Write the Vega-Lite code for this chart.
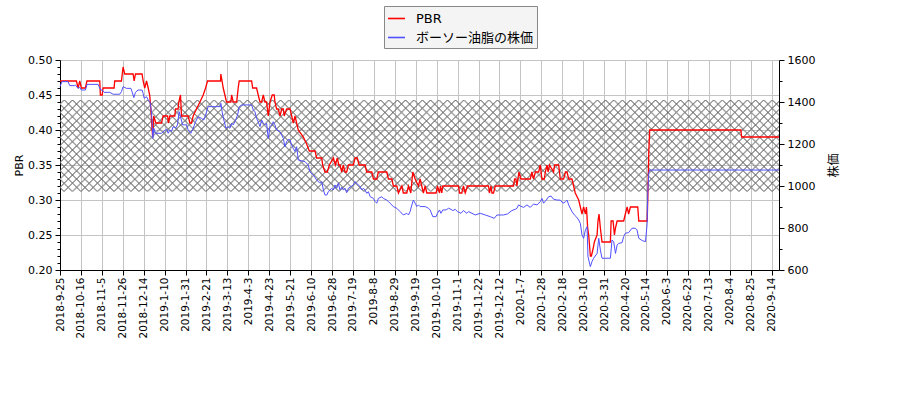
{
  "$schema": "https://vega.github.io/schema/vega-lite/v6.json",
  "width": 719,
  "height": 210,
  "autosize": {"type": "none"},
  "padding": {"left": 60, "top": 60, "right": 121, "bottom": 130},
  "background": "white",
  "config": {
    "view": {"stroke": null},
    "font": "DejaVu Sans",
    "axis": {
      "labelFont": "DejaVu Sans",
      "labelFontSize": 11,
      "labelColor": "black",
      "titleFont": "DejaVu Sans, Noto Sans CJK JP",
      "titleFontSize": 11,
      "titleFontWeight": "normal",
      "titleColor": "black",
      "domainColor": "black",
      "domainWidth": 1,
      "tickColor": "black",
      "tickWidth": 1,
      "gridColor": "#c4c4c4",
      "gridWidth": 1,
      "labelOverlap": false,
      "labelFlush": false
    }
  },
  "datasets": {
    "band": [{"lo": 0.312, "hi": 0.443}],
    "pbr": [
      {"day": 0, "pbr": 0.47}, {"day": 11, "pbr": 0.47}, {"day": 12.1, "pbr": 0.46}, {"day": 13.2, "pbr": 0.47}, {"day": 14.3, "pbr": 0.46}, {"day": 17, "pbr": 0.46}, {"day": 18, "pbr": 0.47}, {"day": 26.6, "pbr": 0.47}, {"day": 27, "pbr": 0.45}, {"day": 28.2, "pbr": 0.45}, {"day": 28.8, "pbr": 0.46}, {"day": 36.2, "pbr": 0.46}, {"day": 36.6, "pbr": 0.47}, {"day": 41.1, "pbr": 0.47}, {"day": 42.2, "pbr": 0.49}, {"day": 43.3, "pbr": 0.48}, {"day": 48.9, "pbr": 0.48}, {"day": 49.6, "pbr": 0.47}, {"day": 50.5, "pbr": 0.48}, {"day": 54.9, "pbr": 0.48}, {"day": 55.6, "pbr": 0.47}, {"day": 56.7, "pbr": 0.46}, {"day": 57.9, "pbr": 0.47}, {"day": 59, "pbr": 0.46}, {"day": 60, "pbr": 0.45}, {"day": 60.8, "pbr": 0.43}, {"day": 61.6, "pbr": 0.4}, {"day": 62, "pbr": 0.39}, {"day": 62.7, "pbr": 0.42}, {"day": 64.1, "pbr": 0.41}, {"day": 67.9, "pbr": 0.41}, {"day": 69, "pbr": 0.42}, {"day": 72, "pbr": 0.42}, {"day": 72.5, "pbr": 0.41}, {"day": 73.5, "pbr": 0.42}, {"day": 76.8, "pbr": 0.42}, {"day": 77.3, "pbr": 0.43}, {"day": 79, "pbr": 0.43}, {"day": 79.5, "pbr": 0.44}, {"day": 80.6, "pbr": 0.45}, {"day": 81.3, "pbr": 0.42}, {"day": 85.7, "pbr": 0.42}, {"day": 86.9, "pbr": 0.41}, {"day": 88, "pbr": 0.41}, {"day": 89.1, "pbr": 0.42}, {"day": 91.3, "pbr": 0.43}, {"day": 93.6, "pbr": 0.44}, {"day": 95.8, "pbr": 0.45}, {"day": 97.4, "pbr": 0.46}, {"day": 98.7, "pbr": 0.47}, {"day": 107.4, "pbr": 0.47}, {"day": 107.6, "pbr": 0.48}, {"day": 109.2, "pbr": 0.46}, {"day": 110.3, "pbr": 0.45}, {"day": 111.4, "pbr": 0.44}, {"day": 114.3, "pbr": 0.44}, {"day": 114.8, "pbr": 0.45}, {"day": 115.9, "pbr": 0.44}, {"day": 118.2, "pbr": 0.44}, {"day": 119.2, "pbr": 0.46}, {"day": 119.9, "pbr": 0.47}, {"day": 128.2, "pbr": 0.47}, {"day": 128.9, "pbr": 0.46}, {"day": 131.5, "pbr": 0.46}, {"day": 132.6, "pbr": 0.45}, {"day": 133.8, "pbr": 0.44}, {"day": 134.9, "pbr": 0.44}, {"day": 136, "pbr": 0.45}, {"day": 137.1, "pbr": 0.44}, {"day": 138.2, "pbr": 0.44}, {"day": 139.3, "pbr": 0.42}, {"day": 140.5, "pbr": 0.44}, {"day": 142, "pbr": 0.45}, {"day": 143.3, "pbr": 0.45}, {"day": 143.8, "pbr": 0.44}, {"day": 144.9, "pbr": 0.43}, {"day": 146, "pbr": 0.43}, {"day": 147.2, "pbr": 0.42}, {"day": 148.3, "pbr": 0.43}, {"day": 149.4, "pbr": 0.43}, {"day": 150, "pbr": 0.42}, {"day": 151.6, "pbr": 0.43}, {"day": 153.9, "pbr": 0.43}, {"day": 155, "pbr": 0.42}, {"day": 156.1, "pbr": 0.41}, {"day": 157.2, "pbr": 0.42}, {"day": 159.4, "pbr": 0.4}, {"day": 162.8, "pbr": 0.39}, {"day": 165, "pbr": 0.38}, {"day": 166.8, "pbr": 0.37}, {"day": 170.6, "pbr": 0.37}, {"day": 171.7, "pbr": 0.36}, {"day": 175.1, "pbr": 0.36}, {"day": 175.7, "pbr": 0.35}, {"day": 177.3, "pbr": 0.34}, {"day": 178.8, "pbr": 0.34}, {"day": 180.2, "pbr": 0.35}, {"day": 182.9, "pbr": 0.36}, {"day": 184.2, "pbr": 0.35}, {"day": 185.5, "pbr": 0.36}, {"day": 186.5, "pbr": 0.35}, {"day": 187.3, "pbr": 0.35}, {"day": 188.5, "pbr": 0.34}, {"day": 189.5, "pbr": 0.35}, {"day": 190.7, "pbr": 0.34}, {"day": 191.8, "pbr": 0.34}, {"day": 192.9, "pbr": 0.35}, {"day": 196.2, "pbr": 0.35}, {"day": 197.4, "pbr": 0.36}, {"day": 198.9, "pbr": 0.36}, {"day": 200.1, "pbr": 0.35}, {"day": 204.1, "pbr": 0.35}, {"day": 205.2, "pbr": 0.34}, {"day": 208.6, "pbr": 0.34}, {"day": 209.7, "pbr": 0.33}, {"day": 211.9, "pbr": 0.33}, {"day": 213, "pbr": 0.34}, {"day": 218.6, "pbr": 0.34}, {"day": 219.7, "pbr": 0.33}, {"day": 222, "pbr": 0.33}, {"day": 223, "pbr": 0.32}, {"day": 225.3, "pbr": 0.32}, {"day": 226.4, "pbr": 0.31}, {"day": 228.7, "pbr": 0.32}, {"day": 229.7, "pbr": 0.31}, {"day": 232, "pbr": 0.31}, {"day": 233.1, "pbr": 0.32}, {"day": 234.7, "pbr": 0.31}, {"day": 236, "pbr": 0.34}, {"day": 237.6, "pbr": 0.33}, {"day": 239.8, "pbr": 0.32}, {"day": 240.9, "pbr": 0.33}, {"day": 242, "pbr": 0.32}, {"day": 243.1, "pbr": 0.31}, {"day": 244.3, "pbr": 0.32}, {"day": 245.4, "pbr": 0.31}, {"day": 251.6, "pbr": 0.31}, {"day": 252.5, "pbr": 0.32}, {"day": 253.9, "pbr": 0.31}, {"day": 254.5, "pbr": 0.32}, {"day": 255.4, "pbr": 0.31}, {"day": 256.1, "pbr": 0.32}, {"day": 266.6, "pbr": 0.32}, {"day": 267.3, "pbr": 0.31}, {"day": 268.8, "pbr": 0.31}, {"day": 269.9, "pbr": 0.32}, {"day": 271.1, "pbr": 0.31}, {"day": 272.6, "pbr": 0.32}, {"day": 286.7, "pbr": 0.32}, {"day": 287.3, "pbr": 0.31}, {"day": 288.3, "pbr": 0.32}, {"day": 289, "pbr": 0.31}, {"day": 290, "pbr": 0.31}, {"day": 291.2, "pbr": 0.32}, {"day": 303.4, "pbr": 0.32}, {"day": 304.1, "pbr": 0.33}, {"day": 305, "pbr": 0.33}, {"day": 305.7, "pbr": 0.32}, {"day": 307, "pbr": 0.34}, {"day": 308.4, "pbr": 0.33}, {"day": 314.6, "pbr": 0.33}, {"day": 315.7, "pbr": 0.34}, {"day": 316.8, "pbr": 0.33}, {"day": 318, "pbr": 0.34}, {"day": 320.2, "pbr": 0.34}, {"day": 321.3, "pbr": 0.35}, {"day": 322.4, "pbr": 0.33}, {"day": 324, "pbr": 0.33}, {"day": 324.7, "pbr": 0.34}, {"day": 325.8, "pbr": 0.35}, {"day": 326.5, "pbr": 0.34}, {"day": 327.5, "pbr": 0.35}, {"day": 330.2, "pbr": 0.34}, {"day": 330.9, "pbr": 0.35}, {"day": 333.6, "pbr": 0.35}, {"day": 334.7, "pbr": 0.33}, {"day": 336.9, "pbr": 0.33}, {"day": 338.1, "pbr": 0.34}, {"day": 339.2, "pbr": 0.34}, {"day": 340.3, "pbr": 0.33}, {"day": 342.5, "pbr": 0.33}, {"day": 343.6, "pbr": 0.32}, {"day": 344.7, "pbr": 0.31}, {"day": 347, "pbr": 0.3}, {"day": 348.1, "pbr": 0.29}, {"day": 349.2, "pbr": 0.28}, {"day": 350.3, "pbr": 0.29}, {"day": 351.5, "pbr": 0.28}, {"day": 352.2, "pbr": 0.29}, {"day": 353, "pbr": 0.26}, {"day": 353.7, "pbr": 0.25}, {"day": 354.8, "pbr": 0.22}, {"day": 355.5, "pbr": 0.22}, {"day": 356.6, "pbr": 0.23}, {"day": 357.5, "pbr": 0.24}, {"day": 359.3, "pbr": 0.25}, {"day": 359.9, "pbr": 0.27}, {"day": 360.6, "pbr": 0.28}, {"day": 361.5, "pbr": 0.26}, {"day": 362.6, "pbr": 0.24}, {"day": 368.2, "pbr": 0.24}, {"day": 368.7, "pbr": 0.27}, {"day": 370, "pbr": 0.27}, {"day": 370.9, "pbr": 0.25}, {"day": 371.6, "pbr": 0.26}, {"day": 372.7, "pbr": 0.27}, {"day": 377.1, "pbr": 0.27}, {"day": 378.2, "pbr": 0.28}, {"day": 379.4, "pbr": 0.29}, {"day": 380.4, "pbr": 0.28}, {"day": 381.6, "pbr": 0.29}, {"day": 386.5, "pbr": 0.29}, {"day": 387.2, "pbr": 0.27}, {"day": 392.8, "pbr": 0.27}, {"day": 393.2, "pbr": 0.3}, {"day": 393.9, "pbr": 0.37}, {"day": 394.5, "pbr": 0.4}, {"day": 455.5, "pbr": 0.4}, {"day": 456, "pbr": 0.39}, {"day": 481, "pbr": 0.39}
    ],
    "price": [
      {"day": 0, "price": 1473}, {"day": 1.3, "price": 1497}, {"day": 5.4, "price": 1497}, {"day": 6.5, "price": 1478}, {"day": 9.8, "price": 1478}, {"day": 10.3, "price": 1481}, {"day": 12.1, "price": 1465}, {"day": 13.2, "price": 1470}, {"day": 14.3, "price": 1457}, {"day": 17, "price": 1457}, {"day": 18.1, "price": 1484}, {"day": 25.5, "price": 1484}, {"day": 26.1, "price": 1473}, {"day": 27.3, "price": 1457}, {"day": 28.1, "price": 1457}, {"day": 29.5, "price": 1446}, {"day": 33.3, "price": 1446}, {"day": 35.5, "price": 1437}, {"day": 40, "price": 1437}, {"day": 41.1, "price": 1449}, {"day": 42.2, "price": 1473}, {"day": 44.5, "price": 1465}, {"day": 47.4, "price": 1465}, {"day": 48.2, "price": 1449}, {"day": 49.4, "price": 1421}, {"day": 50.5, "price": 1446}, {"day": 52.2, "price": 1457}, {"day": 54.9, "price": 1457}, {"day": 55.6, "price": 1441}, {"day": 56.3, "price": 1418}, {"day": 57.9, "price": 1425}, {"day": 59, "price": 1410}, {"day": 60.1, "price": 1402}, {"day": 61.2, "price": 1354}, {"day": 61.6, "price": 1306}, {"day": 62.1, "price": 1227}, {"day": 62.8, "price": 1275}, {"day": 63.9, "price": 1251}, {"day": 67.9, "price": 1251}, {"day": 71.3, "price": 1271}, {"day": 72.4, "price": 1251}, {"day": 73.5, "price": 1267}, {"day": 74.6, "price": 1259}, {"day": 75.7, "price": 1283}, {"day": 77.3, "price": 1275}, {"day": 78.6, "price": 1291}, {"day": 79.7, "price": 1354}, {"day": 80.6, "price": 1330}, {"day": 82, "price": 1291}, {"day": 84.7, "price": 1291}, {"day": 85.7, "price": 1267}, {"day": 87.5, "price": 1251}, {"day": 89.1, "price": 1275}, {"day": 90.7, "price": 1306}, {"day": 92.4, "price": 1330}, {"day": 94.7, "price": 1322}, {"day": 96.2, "price": 1314}, {"day": 97.4, "price": 1338}, {"day": 99.1, "price": 1378}, {"day": 107.4, "price": 1378}, {"day": 107.6, "price": 1394}, {"day": 108.8, "price": 1338}, {"day": 109.9, "price": 1306}, {"day": 111, "price": 1275}, {"day": 112.5, "price": 1283}, {"day": 113.7, "price": 1275}, {"day": 114.8, "price": 1299}, {"day": 115.9, "price": 1291}, {"day": 117, "price": 1306}, {"day": 118.8, "price": 1338}, {"day": 119.9, "price": 1378}, {"day": 121.5, "price": 1386}, {"day": 128.2, "price": 1386}, {"day": 129.3, "price": 1362}, {"day": 130.4, "price": 1354}, {"day": 131.5, "price": 1322}, {"day": 132.6, "price": 1306}, {"day": 133.8, "price": 1283}, {"day": 134.9, "price": 1314}, {"day": 136, "price": 1299}, {"day": 137.1, "price": 1291}, {"day": 138.2, "price": 1299}, {"day": 139.3, "price": 1227}, {"day": 140.5, "price": 1283}, {"day": 141.6, "price": 1291}, {"day": 142.7, "price": 1306}, {"day": 143.8, "price": 1291}, {"day": 144.9, "price": 1267}, {"day": 147.2, "price": 1259}, {"day": 148.3, "price": 1243}, {"day": 149.4, "price": 1227}, {"day": 150.5, "price": 1187}, {"day": 151.6, "price": 1211}, {"day": 152.7, "price": 1222}, {"day": 153.9, "price": 1219}, {"day": 155, "price": 1195}, {"day": 156.1, "price": 1179}, {"day": 157.2, "price": 1164}, {"day": 158.3, "price": 1187}, {"day": 159.4, "price": 1124}, {"day": 163.9, "price": 1116}, {"day": 166.1, "price": 1100}, {"day": 167.2, "price": 1068}, {"day": 169.5, "price": 1052}, {"day": 171.7, "price": 1029}, {"day": 173.9, "price": 1013}, {"day": 175.1, "price": 1021}, {"day": 176.2, "price": 981}, {"day": 177.3, "price": 957}, {"day": 178.5, "price": 957}, {"day": 179.5, "price": 973}, {"day": 181.8, "price": 989}, {"day": 182.9, "price": 981}, {"day": 184, "price": 1005}, {"day": 185.1, "price": 989}, {"day": 186.2, "price": 1013}, {"day": 187.3, "price": 981}, {"day": 188.5, "price": 994}, {"day": 189.5, "price": 981}, {"day": 190.7, "price": 989}, {"day": 191.8, "price": 968}, {"day": 192.9, "price": 989}, {"day": 195.2, "price": 1000}, {"day": 196.2, "price": 1005}, {"day": 197.4, "price": 1021}, {"day": 198.5, "price": 1013}, {"day": 199.6, "price": 1005}, {"day": 200.7, "price": 997}, {"day": 201.9, "price": 981}, {"day": 202.9, "price": 989}, {"day": 204.1, "price": 981}, {"day": 205.2, "price": 965}, {"day": 206.3, "price": 973}, {"day": 207.5, "price": 949}, {"day": 209.7, "price": 941}, {"day": 210.8, "price": 926}, {"day": 211.9, "price": 918}, {"day": 213, "price": 941}, {"day": 215.3, "price": 949}, {"day": 216.3, "price": 941}, {"day": 218.6, "price": 933}, {"day": 219.7, "price": 926}, {"day": 220.8, "price": 918}, {"day": 222, "price": 910}, {"day": 223, "price": 902}, {"day": 225.3, "price": 894}, {"day": 227.5, "price": 878}, {"day": 229.7, "price": 862}, {"day": 232, "price": 870}, {"day": 233.1, "price": 862}, {"day": 234.2, "price": 878}, {"day": 235.4, "price": 910}, {"day": 236.4, "price": 933}, {"day": 237.6, "price": 918}, {"day": 238.7, "price": 902}, {"day": 239.8, "price": 910}, {"day": 240.9, "price": 902}, {"day": 244.3, "price": 902}, {"day": 246.5, "price": 894}, {"day": 247.6, "price": 886}, {"day": 249.4, "price": 854}, {"day": 251.6, "price": 854}, {"day": 252.5, "price": 870}, {"day": 253.9, "price": 886}, {"day": 254.8, "price": 870}, {"day": 256.1, "price": 886}, {"day": 258.3, "price": 886}, {"day": 259.9, "price": 894}, {"day": 261.5, "price": 889}, {"day": 262.8, "price": 883}, {"day": 264.4, "price": 889}, {"day": 265.9, "price": 878}, {"day": 268.2, "price": 870}, {"day": 269.9, "price": 883}, {"day": 272.2, "price": 870}, {"day": 273.3, "price": 878}, {"day": 277.8, "price": 862}, {"day": 281.1, "price": 870}, {"day": 284.5, "price": 862}, {"day": 287.8, "price": 854}, {"day": 290.5, "price": 846}, {"day": 292.3, "price": 862}, {"day": 296.7, "price": 862}, {"day": 299.4, "price": 867}, {"day": 302.3, "price": 883}, {"day": 304.6, "price": 889}, {"day": 305.7, "price": 894}, {"day": 306.8, "price": 910}, {"day": 307.9, "price": 905}, {"day": 310.1, "price": 898}, {"day": 312.4, "price": 910}, {"day": 314.6, "price": 898}, {"day": 316.8, "price": 914}, {"day": 319.1, "price": 910}, {"day": 321.3, "price": 925}, {"day": 322.4, "price": 941}, {"day": 323.5, "price": 918}, {"day": 325.3, "price": 933}, {"day": 326.9, "price": 949}, {"day": 328.5, "price": 952}, {"day": 330.2, "price": 937}, {"day": 332.5, "price": 933}, {"day": 334.7, "price": 933}, {"day": 336.5, "price": 918}, {"day": 338.1, "price": 925}, {"day": 339.2, "price": 933}, {"day": 340.3, "price": 910}, {"day": 342.5, "price": 878}, {"day": 344.1, "price": 862}, {"day": 345.4, "price": 854}, {"day": 347, "price": 838}, {"day": 348.1, "price": 822}, {"day": 349.2, "price": 767}, {"day": 350.3, "price": 751}, {"day": 351.5, "price": 791}, {"day": 352.6, "price": 806}, {"day": 353.2, "price": 664}, {"day": 354.8, "price": 616}, {"day": 355.9, "price": 640}, {"day": 357, "price": 656}, {"day": 359.3, "price": 679}, {"day": 360.4, "price": 751}, {"day": 361.5, "price": 695}, {"day": 362.6, "price": 656}, {"day": 368.2, "price": 656}, {"day": 369.3, "price": 743}, {"day": 370.4, "price": 735}, {"day": 371.6, "price": 679}, {"day": 372.7, "price": 719}, {"day": 373.8, "price": 727}, {"day": 376, "price": 730}, {"day": 377.1, "price": 759}, {"day": 378.2, "price": 775}, {"day": 380.4, "price": 778}, {"day": 382.7, "price": 799}, {"day": 384.9, "price": 799}, {"day": 386, "price": 791}, {"day": 387.2, "price": 751}, {"day": 389.5, "price": 740}, {"day": 391.7, "price": 735}, {"day": 392.8, "price": 822}, {"day": 393.2, "price": 965}, {"day": 393.9, "price": 1062}, {"day": 394.5, "price": 1076}, {"day": 481, "price": 1076}
    ]
  },
  "layer": [
    {
      "data": {"name": "band"},
      "mark": {
        "type": "rect",
        "fill": {
          "gradient": "linear", "x1": 0, "y1": 0, "x2": 1.14, "y2": 0.1454,
          "stops": [
            {"offset":0.0035,"color":"transparent"},{"offset":0.005,"color":"#a4a4a4"},{"offset":0.0065,"color":"transparent"},
            {"offset":0.0135,"color":"transparent"},{"offset":0.015,"color":"#a4a4a4"},{"offset":0.0165,"color":"transparent"},
            {"offset":0.0235,"color":"transparent"},{"offset":0.025,"color":"#a4a4a4"},{"offset":0.0265,"color":"transparent"},
            {"offset":0.0335,"color":"transparent"},{"offset":0.035,"color":"#a4a4a4"},{"offset":0.0365,"color":"transparent"},
            {"offset":0.0435,"color":"transparent"},{"offset":0.045,"color":"#a4a4a4"},{"offset":0.0465,"color":"transparent"},
            {"offset":0.0535,"color":"transparent"},{"offset":0.055,"color":"#a4a4a4"},{"offset":0.0565,"color":"transparent"},
            {"offset":0.0635,"color":"transparent"},{"offset":0.065,"color":"#a4a4a4"},{"offset":0.0665,"color":"transparent"},
            {"offset":0.0735,"color":"transparent"},{"offset":0.075,"color":"#a4a4a4"},{"offset":0.0765,"color":"transparent"},
            {"offset":0.0835,"color":"transparent"},{"offset":0.085,"color":"#a4a4a4"},{"offset":0.0865,"color":"transparent"},
            {"offset":0.0935,"color":"transparent"},{"offset":0.095,"color":"#a4a4a4"},{"offset":0.0965,"color":"transparent"},
            {"offset":0.1035,"color":"transparent"},{"offset":0.105,"color":"#a4a4a4"},{"offset":0.1065,"color":"transparent"},
            {"offset":0.1135,"color":"transparent"},{"offset":0.115,"color":"#a4a4a4"},{"offset":0.1165,"color":"transparent"},
            {"offset":0.1235,"color":"transparent"},{"offset":0.125,"color":"#a4a4a4"},{"offset":0.1265,"color":"transparent"},
            {"offset":0.1335,"color":"transparent"},{"offset":0.135,"color":"#a4a4a4"},{"offset":0.1365,"color":"transparent"},
            {"offset":0.1435,"color":"transparent"},{"offset":0.145,"color":"#a4a4a4"},{"offset":0.1465,"color":"transparent"},
            {"offset":0.1535,"color":"transparent"},{"offset":0.155,"color":"#a4a4a4"},{"offset":0.1565,"color":"transparent"},
            {"offset":0.1635,"color":"transparent"},{"offset":0.165,"color":"#a4a4a4"},{"offset":0.1665,"color":"transparent"},
            {"offset":0.1735,"color":"transparent"},{"offset":0.175,"color":"#a4a4a4"},{"offset":0.1765,"color":"transparent"},
            {"offset":0.1835,"color":"transparent"},{"offset":0.185,"color":"#a4a4a4"},{"offset":0.1865,"color":"transparent"},
            {"offset":0.1935,"color":"transparent"},{"offset":0.195,"color":"#a4a4a4"},{"offset":0.1965,"color":"transparent"},
            {"offset":0.2035,"color":"transparent"},{"offset":0.205,"color":"#a4a4a4"},{"offset":0.2065,"color":"transparent"},
            {"offset":0.2135,"color":"transparent"},{"offset":0.215,"color":"#a4a4a4"},{"offset":0.2165,"color":"transparent"},
            {"offset":0.2235,"color":"transparent"},{"offset":0.225,"color":"#a4a4a4"},{"offset":0.2265,"color":"transparent"},
            {"offset":0.2335,"color":"transparent"},{"offset":0.235,"color":"#a4a4a4"},{"offset":0.2365,"color":"transparent"},
            {"offset":0.2435,"color":"transparent"},{"offset":0.245,"color":"#a4a4a4"},{"offset":0.2465,"color":"transparent"},
            {"offset":0.2535,"color":"transparent"},{"offset":0.255,"color":"#a4a4a4"},{"offset":0.2565,"color":"transparent"},
            {"offset":0.2635,"color":"transparent"},{"offset":0.265,"color":"#a4a4a4"},{"offset":0.2665,"color":"transparent"},
            {"offset":0.2735,"color":"transparent"},{"offset":0.275,"color":"#a4a4a4"},{"offset":0.2765,"color":"transparent"},
            {"offset":0.2835,"color":"transparent"},{"offset":0.285,"color":"#a4a4a4"},{"offset":0.2865,"color":"transparent"},
            {"offset":0.2935,"color":"transparent"},{"offset":0.295,"color":"#a4a4a4"},{"offset":0.2965,"color":"transparent"},
            {"offset":0.3035,"color":"transparent"},{"offset":0.305,"color":"#a4a4a4"},{"offset":0.3065,"color":"transparent"},
            {"offset":0.3135,"color":"transparent"},{"offset":0.315,"color":"#a4a4a4"},{"offset":0.3165,"color":"transparent"},
            {"offset":0.3235,"color":"transparent"},{"offset":0.325,"color":"#a4a4a4"},{"offset":0.3265,"color":"transparent"},
            {"offset":0.3335,"color":"transparent"},{"offset":0.335,"color":"#a4a4a4"},{"offset":0.3365,"color":"transparent"},
            {"offset":0.3435,"color":"transparent"},{"offset":0.345,"color":"#a4a4a4"},{"offset":0.3465,"color":"transparent"},
            {"offset":0.3535,"color":"transparent"},{"offset":0.355,"color":"#a4a4a4"},{"offset":0.3565,"color":"transparent"},
            {"offset":0.3635,"color":"transparent"},{"offset":0.365,"color":"#a4a4a4"},{"offset":0.3665,"color":"transparent"},
            {"offset":0.3735,"color":"transparent"},{"offset":0.375,"color":"#a4a4a4"},{"offset":0.3765,"color":"transparent"},
            {"offset":0.3835,"color":"transparent"},{"offset":0.385,"color":"#a4a4a4"},{"offset":0.3865,"color":"transparent"},
            {"offset":0.3935,"color":"transparent"},{"offset":0.395,"color":"#a4a4a4"},{"offset":0.3965,"color":"transparent"},
            {"offset":0.4035,"color":"transparent"},{"offset":0.405,"color":"#a4a4a4"},{"offset":0.4065,"color":"transparent"},
            {"offset":0.4135,"color":"transparent"},{"offset":0.415,"color":"#a4a4a4"},{"offset":0.4165,"color":"transparent"},
            {"offset":0.4235,"color":"transparent"},{"offset":0.425,"color":"#a4a4a4"},{"offset":0.4265,"color":"transparent"},
            {"offset":0.4335,"color":"transparent"},{"offset":0.435,"color":"#a4a4a4"},{"offset":0.4365,"color":"transparent"},
            {"offset":0.4435,"color":"transparent"},{"offset":0.445,"color":"#a4a4a4"},{"offset":0.4465,"color":"transparent"},
            {"offset":0.4535,"color":"transparent"},{"offset":0.455,"color":"#a4a4a4"},{"offset":0.4565,"color":"transparent"},
            {"offset":0.4635,"color":"transparent"},{"offset":0.465,"color":"#a4a4a4"},{"offset":0.4665,"color":"transparent"},
            {"offset":0.4735,"color":"transparent"},{"offset":0.475,"color":"#a4a4a4"},{"offset":0.4765,"color":"transparent"},
            {"offset":0.4835,"color":"transparent"},{"offset":0.485,"color":"#a4a4a4"},{"offset":0.4865,"color":"transparent"},
            {"offset":0.4935,"color":"transparent"},{"offset":0.495,"color":"#a4a4a4"},{"offset":0.4965,"color":"transparent"},
            {"offset":0.5035,"color":"transparent"},{"offset":0.505,"color":"#a4a4a4"},{"offset":0.5065,"color":"transparent"},
            {"offset":0.5135,"color":"transparent"},{"offset":0.515,"color":"#a4a4a4"},{"offset":0.5165,"color":"transparent"},
            {"offset":0.5235,"color":"transparent"},{"offset":0.525,"color":"#a4a4a4"},{"offset":0.5265,"color":"transparent"},
            {"offset":0.5335,"color":"transparent"},{"offset":0.535,"color":"#a4a4a4"},{"offset":0.5365,"color":"transparent"},
            {"offset":0.5435,"color":"transparent"},{"offset":0.545,"color":"#a4a4a4"},{"offset":0.5465,"color":"transparent"},
            {"offset":0.5535,"color":"transparent"},{"offset":0.555,"color":"#a4a4a4"},{"offset":0.5565,"color":"transparent"},
            {"offset":0.5635,"color":"transparent"},{"offset":0.565,"color":"#a4a4a4"},{"offset":0.5665,"color":"transparent"},
            {"offset":0.5735,"color":"transparent"},{"offset":0.575,"color":"#a4a4a4"},{"offset":0.5765,"color":"transparent"},
            {"offset":0.5835,"color":"transparent"},{"offset":0.585,"color":"#a4a4a4"},{"offset":0.5865,"color":"transparent"},
            {"offset":0.5935,"color":"transparent"},{"offset":0.595,"color":"#a4a4a4"},{"offset":0.5965,"color":"transparent"},
            {"offset":0.6035,"color":"transparent"},{"offset":0.605,"color":"#a4a4a4"},{"offset":0.6065,"color":"transparent"},
            {"offset":0.6135,"color":"transparent"},{"offset":0.615,"color":"#a4a4a4"},{"offset":0.6165,"color":"transparent"},
            {"offset":0.6235,"color":"transparent"},{"offset":0.625,"color":"#a4a4a4"},{"offset":0.6265,"color":"transparent"},
            {"offset":0.6335,"color":"transparent"},{"offset":0.635,"color":"#a4a4a4"},{"offset":0.6365,"color":"transparent"},
            {"offset":0.6435,"color":"transparent"},{"offset":0.645,"color":"#a4a4a4"},{"offset":0.6465,"color":"transparent"},
            {"offset":0.6535,"color":"transparent"},{"offset":0.655,"color":"#a4a4a4"},{"offset":0.6565,"color":"transparent"},
            {"offset":0.6635,"color":"transparent"},{"offset":0.665,"color":"#a4a4a4"},{"offset":0.6665,"color":"transparent"},
            {"offset":0.6735,"color":"transparent"},{"offset":0.675,"color":"#a4a4a4"},{"offset":0.6765,"color":"transparent"},
            {"offset":0.6835,"color":"transparent"},{"offset":0.685,"color":"#a4a4a4"},{"offset":0.6865,"color":"transparent"},
            {"offset":0.6935,"color":"transparent"},{"offset":0.695,"color":"#a4a4a4"},{"offset":0.6965,"color":"transparent"},
            {"offset":0.7035,"color":"transparent"},{"offset":0.705,"color":"#a4a4a4"},{"offset":0.7065,"color":"transparent"},
            {"offset":0.7135,"color":"transparent"},{"offset":0.715,"color":"#a4a4a4"},{"offset":0.7165,"color":"transparent"},
            {"offset":0.7235,"color":"transparent"},{"offset":0.725,"color":"#a4a4a4"},{"offset":0.7265,"color":"transparent"},
            {"offset":0.7335,"color":"transparent"},{"offset":0.735,"color":"#a4a4a4"},{"offset":0.7365,"color":"transparent"},
            {"offset":0.7435,"color":"transparent"},{"offset":0.745,"color":"#a4a4a4"},{"offset":0.7465,"color":"transparent"},
            {"offset":0.7535,"color":"transparent"},{"offset":0.755,"color":"#a4a4a4"},{"offset":0.7565,"color":"transparent"},
            {"offset":0.7635,"color":"transparent"},{"offset":0.765,"color":"#a4a4a4"},{"offset":0.7665,"color":"transparent"},
            {"offset":0.7735,"color":"transparent"},{"offset":0.775,"color":"#a4a4a4"},{"offset":0.7765,"color":"transparent"},
            {"offset":0.7835,"color":"transparent"},{"offset":0.785,"color":"#a4a4a4"},{"offset":0.7865,"color":"transparent"},
            {"offset":0.7935,"color":"transparent"},{"offset":0.795,"color":"#a4a4a4"},{"offset":0.7965,"color":"transparent"},
            {"offset":0.8035,"color":"transparent"},{"offset":0.805,"color":"#a4a4a4"},{"offset":0.8065,"color":"transparent"},
            {"offset":0.8135,"color":"transparent"},{"offset":0.815,"color":"#a4a4a4"},{"offset":0.8165,"color":"transparent"},
            {"offset":0.8235,"color":"transparent"},{"offset":0.825,"color":"#a4a4a4"},{"offset":0.8265,"color":"transparent"},
            {"offset":0.8335,"color":"transparent"},{"offset":0.835,"color":"#a4a4a4"},{"offset":0.8365,"color":"transparent"},
            {"offset":0.8435,"color":"transparent"},{"offset":0.845,"color":"#a4a4a4"},{"offset":0.8465,"color":"transparent"},
            {"offset":0.8535,"color":"transparent"},{"offset":0.855,"color":"#a4a4a4"},{"offset":0.8565,"color":"transparent"},
            {"offset":0.8635,"color":"transparent"},{"offset":0.865,"color":"#a4a4a4"},{"offset":0.8665,"color":"transparent"},
            {"offset":0.8735,"color":"transparent"},{"offset":0.875,"color":"#a4a4a4"},{"offset":0.8765,"color":"transparent"},
            {"offset":0.8835,"color":"transparent"},{"offset":0.885,"color":"#a4a4a4"},{"offset":0.8865,"color":"transparent"},
            {"offset":0.8935,"color":"transparent"},{"offset":0.895,"color":"#a4a4a4"},{"offset":0.8965,"color":"transparent"},
            {"offset":0.9035,"color":"transparent"},{"offset":0.905,"color":"#a4a4a4"},{"offset":0.9065,"color":"transparent"},
            {"offset":0.9135,"color":"transparent"},{"offset":0.915,"color":"#a4a4a4"},{"offset":0.9165,"color":"transparent"},
            {"offset":0.9235,"color":"transparent"},{"offset":0.925,"color":"#a4a4a4"},{"offset":0.9265,"color":"transparent"},
            {"offset":0.9335,"color":"transparent"},{"offset":0.935,"color":"#a4a4a4"},{"offset":0.9365,"color":"transparent"},
            {"offset":0.9435,"color":"transparent"},{"offset":0.945,"color":"#a4a4a4"},{"offset":0.9465,"color":"transparent"},
            {"offset":0.9535,"color":"transparent"},{"offset":0.955,"color":"#a4a4a4"},{"offset":0.9565,"color":"transparent"},
            {"offset":0.9635,"color":"transparent"},{"offset":0.965,"color":"#a4a4a4"},{"offset":0.9665,"color":"transparent"},
            {"offset":0.9735,"color":"transparent"},{"offset":0.975,"color":"#a4a4a4"},{"offset":0.9765,"color":"transparent"}
          ]
        }
      },
      "encoding": {
        "x": {"datum": 0, "type": "quantitative", "scale": {"domain": [0, 481], "nice": false, "zero": false}},
        "x2": {"datum": 481},
        "y": {"field": "hi", "type": "quantitative", "scale": {"domain": [0.2, 0.5], "nice": false, "zero": false}, "axis": null},
        "y2": {"field": "lo"}
      }
    },
    {
      "data": {"name": "band"},
      "mark": {
        "type": "rect",
        "fill": {
          "gradient": "linear", "x1": 0, "y1": 1, "x2": 1.14, "y2": 0.8546,
          "stops": [
            {"offset":0.0035,"color":"transparent"},{"offset":0.005,"color":"#a4a4a4"},{"offset":0.0065,"color":"transparent"},
            {"offset":0.0135,"color":"transparent"},{"offset":0.015,"color":"#a4a4a4"},{"offset":0.0165,"color":"transparent"},
            {"offset":0.0235,"color":"transparent"},{"offset":0.025,"color":"#a4a4a4"},{"offset":0.0265,"color":"transparent"},
            {"offset":0.0335,"color":"transparent"},{"offset":0.035,"color":"#a4a4a4"},{"offset":0.0365,"color":"transparent"},
            {"offset":0.0435,"color":"transparent"},{"offset":0.045,"color":"#a4a4a4"},{"offset":0.0465,"color":"transparent"},
            {"offset":0.0535,"color":"transparent"},{"offset":0.055,"color":"#a4a4a4"},{"offset":0.0565,"color":"transparent"},
            {"offset":0.0635,"color":"transparent"},{"offset":0.065,"color":"#a4a4a4"},{"offset":0.0665,"color":"transparent"},
            {"offset":0.0735,"color":"transparent"},{"offset":0.075,"color":"#a4a4a4"},{"offset":0.0765,"color":"transparent"},
            {"offset":0.0835,"color":"transparent"},{"offset":0.085,"color":"#a4a4a4"},{"offset":0.0865,"color":"transparent"},
            {"offset":0.0935,"color":"transparent"},{"offset":0.095,"color":"#a4a4a4"},{"offset":0.0965,"color":"transparent"},
            {"offset":0.1035,"color":"transparent"},{"offset":0.105,"color":"#a4a4a4"},{"offset":0.1065,"color":"transparent"},
            {"offset":0.1135,"color":"transparent"},{"offset":0.115,"color":"#a4a4a4"},{"offset":0.1165,"color":"transparent"},
            {"offset":0.1235,"color":"transparent"},{"offset":0.125,"color":"#a4a4a4"},{"offset":0.1265,"color":"transparent"},
            {"offset":0.1335,"color":"transparent"},{"offset":0.135,"color":"#a4a4a4"},{"offset":0.1365,"color":"transparent"},
            {"offset":0.1435,"color":"transparent"},{"offset":0.145,"color":"#a4a4a4"},{"offset":0.1465,"color":"transparent"},
            {"offset":0.1535,"color":"transparent"},{"offset":0.155,"color":"#a4a4a4"},{"offset":0.1565,"color":"transparent"},
            {"offset":0.1635,"color":"transparent"},{"offset":0.165,"color":"#a4a4a4"},{"offset":0.1665,"color":"transparent"},
            {"offset":0.1735,"color":"transparent"},{"offset":0.175,"color":"#a4a4a4"},{"offset":0.1765,"color":"transparent"},
            {"offset":0.1835,"color":"transparent"},{"offset":0.185,"color":"#a4a4a4"},{"offset":0.1865,"color":"transparent"},
            {"offset":0.1935,"color":"transparent"},{"offset":0.195,"color":"#a4a4a4"},{"offset":0.1965,"color":"transparent"},
            {"offset":0.2035,"color":"transparent"},{"offset":0.205,"color":"#a4a4a4"},{"offset":0.2065,"color":"transparent"},
            {"offset":0.2135,"color":"transparent"},{"offset":0.215,"color":"#a4a4a4"},{"offset":0.2165,"color":"transparent"},
            {"offset":0.2235,"color":"transparent"},{"offset":0.225,"color":"#a4a4a4"},{"offset":0.2265,"color":"transparent"},
            {"offset":0.2335,"color":"transparent"},{"offset":0.235,"color":"#a4a4a4"},{"offset":0.2365,"color":"transparent"},
            {"offset":0.2435,"color":"transparent"},{"offset":0.245,"color":"#a4a4a4"},{"offset":0.2465,"color":"transparent"},
            {"offset":0.2535,"color":"transparent"},{"offset":0.255,"color":"#a4a4a4"},{"offset":0.2565,"color":"transparent"},
            {"offset":0.2635,"color":"transparent"},{"offset":0.265,"color":"#a4a4a4"},{"offset":0.2665,"color":"transparent"},
            {"offset":0.2735,"color":"transparent"},{"offset":0.275,"color":"#a4a4a4"},{"offset":0.2765,"color":"transparent"},
            {"offset":0.2835,"color":"transparent"},{"offset":0.285,"color":"#a4a4a4"},{"offset":0.2865,"color":"transparent"},
            {"offset":0.2935,"color":"transparent"},{"offset":0.295,"color":"#a4a4a4"},{"offset":0.2965,"color":"transparent"},
            {"offset":0.3035,"color":"transparent"},{"offset":0.305,"color":"#a4a4a4"},{"offset":0.3065,"color":"transparent"},
            {"offset":0.3135,"color":"transparent"},{"offset":0.315,"color":"#a4a4a4"},{"offset":0.3165,"color":"transparent"},
            {"offset":0.3235,"color":"transparent"},{"offset":0.325,"color":"#a4a4a4"},{"offset":0.3265,"color":"transparent"},
            {"offset":0.3335,"color":"transparent"},{"offset":0.335,"color":"#a4a4a4"},{"offset":0.3365,"color":"transparent"},
            {"offset":0.3435,"color":"transparent"},{"offset":0.345,"color":"#a4a4a4"},{"offset":0.3465,"color":"transparent"},
            {"offset":0.3535,"color":"transparent"},{"offset":0.355,"color":"#a4a4a4"},{"offset":0.3565,"color":"transparent"},
            {"offset":0.3635,"color":"transparent"},{"offset":0.365,"color":"#a4a4a4"},{"offset":0.3665,"color":"transparent"},
            {"offset":0.3735,"color":"transparent"},{"offset":0.375,"color":"#a4a4a4"},{"offset":0.3765,"color":"transparent"},
            {"offset":0.3835,"color":"transparent"},{"offset":0.385,"color":"#a4a4a4"},{"offset":0.3865,"color":"transparent"},
            {"offset":0.3935,"color":"transparent"},{"offset":0.395,"color":"#a4a4a4"},{"offset":0.3965,"color":"transparent"},
            {"offset":0.4035,"color":"transparent"},{"offset":0.405,"color":"#a4a4a4"},{"offset":0.4065,"color":"transparent"},
            {"offset":0.4135,"color":"transparent"},{"offset":0.415,"color":"#a4a4a4"},{"offset":0.4165,"color":"transparent"},
            {"offset":0.4235,"color":"transparent"},{"offset":0.425,"color":"#a4a4a4"},{"offset":0.4265,"color":"transparent"},
            {"offset":0.4335,"color":"transparent"},{"offset":0.435,"color":"#a4a4a4"},{"offset":0.4365,"color":"transparent"},
            {"offset":0.4435,"color":"transparent"},{"offset":0.445,"color":"#a4a4a4"},{"offset":0.4465,"color":"transparent"},
            {"offset":0.4535,"color":"transparent"},{"offset":0.455,"color":"#a4a4a4"},{"offset":0.4565,"color":"transparent"},
            {"offset":0.4635,"color":"transparent"},{"offset":0.465,"color":"#a4a4a4"},{"offset":0.4665,"color":"transparent"},
            {"offset":0.4735,"color":"transparent"},{"offset":0.475,"color":"#a4a4a4"},{"offset":0.4765,"color":"transparent"},
            {"offset":0.4835,"color":"transparent"},{"offset":0.485,"color":"#a4a4a4"},{"offset":0.4865,"color":"transparent"},
            {"offset":0.4935,"color":"transparent"},{"offset":0.495,"color":"#a4a4a4"},{"offset":0.4965,"color":"transparent"},
            {"offset":0.5035,"color":"transparent"},{"offset":0.505,"color":"#a4a4a4"},{"offset":0.5065,"color":"transparent"},
            {"offset":0.5135,"color":"transparent"},{"offset":0.515,"color":"#a4a4a4"},{"offset":0.5165,"color":"transparent"},
            {"offset":0.5235,"color":"transparent"},{"offset":0.525,"color":"#a4a4a4"},{"offset":0.5265,"color":"transparent"},
            {"offset":0.5335,"color":"transparent"},{"offset":0.535,"color":"#a4a4a4"},{"offset":0.5365,"color":"transparent"},
            {"offset":0.5435,"color":"transparent"},{"offset":0.545,"color":"#a4a4a4"},{"offset":0.5465,"color":"transparent"},
            {"offset":0.5535,"color":"transparent"},{"offset":0.555,"color":"#a4a4a4"},{"offset":0.5565,"color":"transparent"},
            {"offset":0.5635,"color":"transparent"},{"offset":0.565,"color":"#a4a4a4"},{"offset":0.5665,"color":"transparent"},
            {"offset":0.5735,"color":"transparent"},{"offset":0.575,"color":"#a4a4a4"},{"offset":0.5765,"color":"transparent"},
            {"offset":0.5835,"color":"transparent"},{"offset":0.585,"color":"#a4a4a4"},{"offset":0.5865,"color":"transparent"},
            {"offset":0.5935,"color":"transparent"},{"offset":0.595,"color":"#a4a4a4"},{"offset":0.5965,"color":"transparent"},
            {"offset":0.6035,"color":"transparent"},{"offset":0.605,"color":"#a4a4a4"},{"offset":0.6065,"color":"transparent"},
            {"offset":0.6135,"color":"transparent"},{"offset":0.615,"color":"#a4a4a4"},{"offset":0.6165,"color":"transparent"},
            {"offset":0.6235,"color":"transparent"},{"offset":0.625,"color":"#a4a4a4"},{"offset":0.6265,"color":"transparent"},
            {"offset":0.6335,"color":"transparent"},{"offset":0.635,"color":"#a4a4a4"},{"offset":0.6365,"color":"transparent"},
            {"offset":0.6435,"color":"transparent"},{"offset":0.645,"color":"#a4a4a4"},{"offset":0.6465,"color":"transparent"},
            {"offset":0.6535,"color":"transparent"},{"offset":0.655,"color":"#a4a4a4"},{"offset":0.6565,"color":"transparent"},
            {"offset":0.6635,"color":"transparent"},{"offset":0.665,"color":"#a4a4a4"},{"offset":0.6665,"color":"transparent"},
            {"offset":0.6735,"color":"transparent"},{"offset":0.675,"color":"#a4a4a4"},{"offset":0.6765,"color":"transparent"},
            {"offset":0.6835,"color":"transparent"},{"offset":0.685,"color":"#a4a4a4"},{"offset":0.6865,"color":"transparent"},
            {"offset":0.6935,"color":"transparent"},{"offset":0.695,"color":"#a4a4a4"},{"offset":0.6965,"color":"transparent"},
            {"offset":0.7035,"color":"transparent"},{"offset":0.705,"color":"#a4a4a4"},{"offset":0.7065,"color":"transparent"},
            {"offset":0.7135,"color":"transparent"},{"offset":0.715,"color":"#a4a4a4"},{"offset":0.7165,"color":"transparent"},
            {"offset":0.7235,"color":"transparent"},{"offset":0.725,"color":"#a4a4a4"},{"offset":0.7265,"color":"transparent"},
            {"offset":0.7335,"color":"transparent"},{"offset":0.735,"color":"#a4a4a4"},{"offset":0.7365,"color":"transparent"},
            {"offset":0.7435,"color":"transparent"},{"offset":0.745,"color":"#a4a4a4"},{"offset":0.7465,"color":"transparent"},
            {"offset":0.7535,"color":"transparent"},{"offset":0.755,"color":"#a4a4a4"},{"offset":0.7565,"color":"transparent"},
            {"offset":0.7635,"color":"transparent"},{"offset":0.765,"color":"#a4a4a4"},{"offset":0.7665,"color":"transparent"},
            {"offset":0.7735,"color":"transparent"},{"offset":0.775,"color":"#a4a4a4"},{"offset":0.7765,"color":"transparent"},
            {"offset":0.7835,"color":"transparent"},{"offset":0.785,"color":"#a4a4a4"},{"offset":0.7865,"color":"transparent"},
            {"offset":0.7935,"color":"transparent"},{"offset":0.795,"color":"#a4a4a4"},{"offset":0.7965,"color":"transparent"},
            {"offset":0.8035,"color":"transparent"},{"offset":0.805,"color":"#a4a4a4"},{"offset":0.8065,"color":"transparent"},
            {"offset":0.8135,"color":"transparent"},{"offset":0.815,"color":"#a4a4a4"},{"offset":0.8165,"color":"transparent"},
            {"offset":0.8235,"color":"transparent"},{"offset":0.825,"color":"#a4a4a4"},{"offset":0.8265,"color":"transparent"},
            {"offset":0.8335,"color":"transparent"},{"offset":0.835,"color":"#a4a4a4"},{"offset":0.8365,"color":"transparent"},
            {"offset":0.8435,"color":"transparent"},{"offset":0.845,"color":"#a4a4a4"},{"offset":0.8465,"color":"transparent"},
            {"offset":0.8535,"color":"transparent"},{"offset":0.855,"color":"#a4a4a4"},{"offset":0.8565,"color":"transparent"},
            {"offset":0.8635,"color":"transparent"},{"offset":0.865,"color":"#a4a4a4"},{"offset":0.8665,"color":"transparent"},
            {"offset":0.8735,"color":"transparent"},{"offset":0.875,"color":"#a4a4a4"},{"offset":0.8765,"color":"transparent"},
            {"offset":0.8835,"color":"transparent"},{"offset":0.885,"color":"#a4a4a4"},{"offset":0.8865,"color":"transparent"},
            {"offset":0.8935,"color":"transparent"},{"offset":0.895,"color":"#a4a4a4"},{"offset":0.8965,"color":"transparent"},
            {"offset":0.9035,"color":"transparent"},{"offset":0.905,"color":"#a4a4a4"},{"offset":0.9065,"color":"transparent"},
            {"offset":0.9135,"color":"transparent"},{"offset":0.915,"color":"#a4a4a4"},{"offset":0.9165,"color":"transparent"},
            {"offset":0.9235,"color":"transparent"},{"offset":0.925,"color":"#a4a4a4"},{"offset":0.9265,"color":"transparent"},
            {"offset":0.9335,"color":"transparent"},{"offset":0.935,"color":"#a4a4a4"},{"offset":0.9365,"color":"transparent"},
            {"offset":0.9435,"color":"transparent"},{"offset":0.945,"color":"#a4a4a4"},{"offset":0.9465,"color":"transparent"},
            {"offset":0.9535,"color":"transparent"},{"offset":0.955,"color":"#a4a4a4"},{"offset":0.9565,"color":"transparent"},
            {"offset":0.9635,"color":"transparent"},{"offset":0.965,"color":"#a4a4a4"},{"offset":0.9665,"color":"transparent"},
            {"offset":0.9735,"color":"transparent"},{"offset":0.975,"color":"#a4a4a4"},{"offset":0.9765,"color":"transparent"}
          ]
        }
      },
      "encoding": {
        "x": {"datum": 0, "type": "quantitative", "scale": {"domain": [0, 481], "nice": false, "zero": false}},
        "x2": {"datum": 481},
        "y": {"field": "hi", "type": "quantitative", "scale": {"domain": [0.2, 0.5], "nice": false, "zero": false}, "axis": null},
        "y2": {"field": "lo"}
      }
    },
    {
      "data": {"name": "pbr"},
      "mark": {"type": "line", "strokeWidth": 1.3, "interpolate": "linear"},
      "encoding": {
        "x": {
          "field": "day", "type": "quantitative",
          "scale": {"domain": [0, 481], "nice": false, "zero": false},
          "axis": {
            "title": null,
            "values": [0, 14, 28, 42, 56, 70, 84, 98, 112, 126, 140, 154, 168, 182, 196, 210, 224, 238, 252, 266, 280, 294, 308, 322, 336, 350, 364, 378, 392, 406, 420, 434, 448, 462, 476],
            "tickCount": 60,
            "labelExpr": "['2018-9-25','2018-10-16','2018-11-5','2018-11-26','2018-12-14','2019-1-10','2019-1-31','2019-2-21','2019-3-13','2019-4-3','2019-4-23','2019-5-21','2019-6-10','2019-6-28','2019-7-19','2019-8-8','2019-8-29','2019-9-19','2019-10-10','2019-11-1','2019-11-22','2019-12-12','2020-1-7','2020-1-28','2020-2-18','2020-3-10','2020-3-31','2020-4-20','2020-5-14','2020-6-3','2020-6-23','2020-7-13','2020-8-4','2020-8-25','2020-9-14'][round(datum.value/14)]",
            "labelAngle": 270,
            "labelAlign": "right",
            "labelBaseline": "middle",
            "labelFontSize": 10.5,
            "labelPadding": 2,
            "tickSize": 5,
            "grid": true
          }
        },
        "y": {
          "field": "pbr", "type": "quantitative",
          "scale": {"domain": [0.2, 0.5], "nice": false, "zero": false},
          "axis": {
            "orient": "left",
            "title": "PBR",
            "titlePadding": 3,
            "values": [0.2, 0.21, 0.22, 0.23, 0.24, 0.25, 0.26, 0.27, 0.28, 0.29, 0.3, 0.31, 0.32, 0.33, 0.34, 0.35, 0.36, 0.37, 0.38, 0.39, 0.4, 0.41, 0.42, 0.43, 0.44, 0.45, 0.46, 0.47, 0.48, 0.49, 0.5],
            "tickCount": 60,
            "labelExpr": "round(datum.value*100) % 5 == 0 ? format(datum.value, '.2f') : ''",
            "tickSize": {"condition": {"test": "round(datum.value*100) % 5 == 0", "value": 5}, "value": 3},
            "gridOpacity": {"condition": {"test": "round(datum.value*100) % 5 == 0", "value": 1}, "value": 0},
            "labelPadding": 3,
            "grid": true
          }
        },
        "color": {
          "datum": "PBR",
          "type": "nominal",
          "scale": {"domain": ["PBR", "ボーソー油脂の株価"], "range": ["#ff0000", "#5050ff"]},
          "legend": {
            "orient": "none",
            "legendX": 324,
            "legendY": -54,
            "title": null,
            "symbolType": "stroke",
            "symbolSize": 289,
            "symbolStrokeWidth": 1.6,
            "labelFont": "DejaVu Sans, Noto Sans CJK JP",
            "labelFontSize": 13,
            "labelColor": "black",
            "labelOffset": 10,
            "fillColor": "#f4f4f4",
            "strokeColor": "#888",
            "padding": 3,
            "rowPadding": 2
          }
        }
      }
    },
    {
      "data": {"name": "price"},
      "mark": {"type": "line", "strokeWidth": 1, "interpolate": "linear"},
      "encoding": {
        "x": {"field": "day", "type": "quantitative", "scale": {"domain": [0, 481], "nice": false, "zero": false}},
        "y": {
          "field": "price", "type": "quantitative",
          "scale": {"domain": [600, 1600], "nice": false, "zero": false},
          "axis": {
            "orient": "right",
            "title": "株価",
            "titleAngle": 270,
            "titleFont": "Noto Sans CJK JP",
            "titleFontSize": 12,
            "titlePadding": 26,
            "values": [600, 700, 800, 900, 1000, 1100, 1200, 1300, 1400, 1500, 1600],
            "tickCount": 30,
            "labelExpr": "datum.value % 200 == 0 ? format(datum.value, 'd') : ''",
            "tickSize": {"condition": {"test": "datum.value % 200 == 0", "value": 5}, "value": 3},
            "labelPadding": 3,
            "grid": false
          }
        },
        "color": {"datum": "ボーソー油脂の株価", "type": "nominal"}
      }
    }
  ],
  "resolve": {"scale": {"y": "independent"}}
}
